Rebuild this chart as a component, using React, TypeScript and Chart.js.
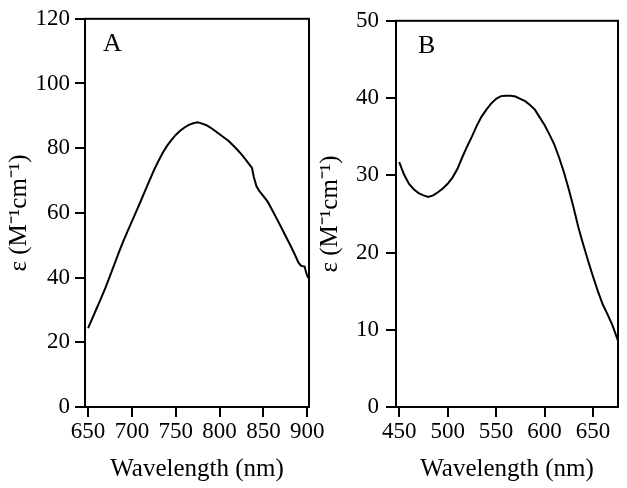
import React, { useEffect, useRef } from "react";
import { Chart, registerables } from "chart.js";

Chart.register(...registerables);

// Panel A data
const wavelengthA = [
  650, 655, 660, 665, 670, 675, 680, 685, 690, 695, 700, 705, 710, 715, 720, 725, 730, 735, 740, 745,
  750, 755, 760, 765, 770, 775, 780, 785, 790, 795, 800, 805, 810, 815, 820, 825, 830, 835, 837, 839,
  842, 845, 850, 855, 860, 865, 870, 875, 880, 885, 890, 893, 897, 899, 901,
];
const epsilonA = [
  24.4, 27.5, 30.6, 33.7, 37.0, 40.5, 44.1, 47.7, 51.1, 54.3, 57.4, 60.5, 63.6, 66.8, 70.0, 73.1, 75.9, 78.5, 80.7, 82.5,
  84.1, 85.4, 86.4, 87.2, 87.7, 88.0, 87.6, 87.1, 86.3, 85.3, 84.3, 83.3, 82.3, 81.0, 79.6, 78.1, 76.4, 74.6, 73.9, 71.2,
  68.3, 66.9, 65.2, 63.4, 60.9, 58.3, 55.7, 53.0, 50.4, 47.6, 44.6, 43.6, 43.4, 41.3, 39.9,
];

// Panel B data
const wavelengthB = [
  450, 455, 460, 465, 470, 475, 480, 485, 490, 495, 500, 505, 510, 515, 520, 525, 530, 535, 540, 545,
  550, 555, 560, 565, 570, 575, 580, 585, 590, 595, 600, 605, 610, 615, 620, 625, 630, 635, 640, 645,
  650, 655, 660, 665, 670, 675.8,
];
const epsilonB = [
  31.7, 30.1, 28.9, 28.2, 27.7, 27.4, 27.2, 27.4, 27.8, 28.3, 28.9, 29.7, 30.8, 32.3, 33.7, 35.0, 36.4, 37.6, 38.5, 39.3,
  39.9, 40.25, 40.3, 40.3, 40.2, 39.9, 39.6, 39.1, 38.5, 37.5, 36.5, 35.3, 34.0, 32.3, 30.4, 28.2, 25.8, 23.2, 21.0, 18.9,
  16.9, 15.0, 13.3, 12.0, 10.6, 8.6,
];

const xTicksA = [650, 700, 750, 800, 850, 900];
const yTicksA = [0, 20, 40, 60, 80, 100, 120];
const xTicksB = [450, 500, 550, 600, 650];
const yTicksB = [0, 10, 20, 30, 40, 50];

const xTitle = "Wavelength (nm)";
const yTitle = "ε (M⁻¹cm⁻¹)";
const panelLetters = ["A", "B"];

const FONT = "'Liberation Serif', 'Times New Roman', serif";

const framePlugin = {
  id: "frame",
  afterDraw(chart: any, _args: any, opts: any) {
    const { ctx, chartArea } = chart;
    const { left, top, right, bottom } = chartArea;
    ctx.save();
    ctx.strokeStyle = "#000";
    ctx.lineWidth = 2;
    ctx.strokeRect(left, top, right - left, bottom - top);
    ctx.fillStyle = "#000";
    ctx.font = `26px ${FONT}`;
    ctx.textBaseline = "alphabetic";
    ctx.textAlign = "left";
    ctx.fillText(opts.letter, left + opts.dx, top + 32);
    ctx.restore();
  },
};

function makeConfig(p: {
  xs: number[];
  ys: number[];
  xTicks: number[];
  yTicks: number[];
  xMin: number;
  xMax: number;
  yMax: number;
  padding: { left: number; right: number; top: number; bottom: number };
  yLabelPad: number;
  letter: string;
  letterDx: number;
}) {
  const gridOpts = {
    display: true,
    drawOnChartArea: false,
    drawTicks: true,
    tickLength: 10,
    color: "#000",
    lineWidth: 2,
  };
  return {
    type: "line" as const,
    data: {
      datasets: [
        {
          data: p.xs.map((x, i) => ({ x, y: p.ys[i] })),
          borderColor: "#000",
          borderWidth: 2,
          pointRadius: 0,
          tension: 0,
          fill: false,
        },
      ],
    },
    plugins: [framePlugin],
    options: {
      animation: false as const,
      responsive: false,
      events: [],
      layout: { padding: p.padding },
      plugins: {
        legend: { display: false },
        tooltip: { enabled: false },
        frame: { letter: p.letter, dx: p.letterDx },
      },
      scales: {
        x: {
          type: "linear" as const,
          min: p.xMin,
          max: p.xMax,
          afterBuildTicks: (scale: any) => {
            scale.ticks = p.xTicks.map((v) => ({ value: v }));
          },
          afterFit: (scale: any) => {
            scale.height = 81;
          },
          border: { display: true, color: "#000", width: 2 },
          grid: gridOpts,
          ticks: {
            color: "#000",
            font: { family: FONT, size: 23 },
            padding: 1,
            maxRotation: 0,
            autoSkip: false,
          },
          title: {
            display: true,
            text: xTitle,
            color: "#000",
            font: { family: FONT, size: 25 },
            padding: { top: 0, bottom: 4 },
          },
        },
        y: {
          type: "linear" as const,
          min: 0,
          max: p.yMax,
          afterBuildTicks: (scale: any) => {
            scale.ticks = p.yTicks.map((v) => ({ value: v }));
          },
          afterFit: (scale: any) => {
            scale.width = 85;
          },
          border: { display: true, color: "#000", width: 2 },
          grid: gridOpts,
          ticks: {
            color: "#000",
            font: { family: FONT, size: 23 },
            padding: p.yLabelPad,
            autoSkip: false,
          },
          title: {
            display: true,
            text: yTitle,
            color: "#000",
            font: { family: FONT, size: 25 },
            padding: { top: 4, bottom: 0 },
          },
        },
      },
    },
  };
}

export default function App() {
  const refA = useRef<HTMLCanvasElement>(null);
  const refB = useRef<HTMLCanvasElement>(null);

  useEffect(() => {
    const chartA = new Chart(
      refA.current as HTMLCanvasElement,
      makeConfig({
        xs: wavelengthA,
        ys: epsilonA,
        xTicks: xTicksA,
        yTicks: yTicksA,
        xMin: 646.5,
        xMax: 902,
        yMax: 120,
        padding: { left: 0, right: 318, top: 15, bottom: 0 },
        yLabelPad: 5,
        letter: panelLetters[0],
        letterDx: 18,
      }) as any
    );
    const chartB = new Chart(
      refB.current as HTMLCanvasElement,
      makeConfig({
        xs: wavelengthB,
        ys: epsilonB,
        xTicks: xTicksB,
        yTicks: yTicksB,
        xMin: 446.7,
        xMax: 675.8,
        yMax: 50,
        padding: { left: 311, right: 9, top: 15, bottom: 0 },
        yLabelPad: 7,
        letter: panelLetters[1],
        letterDx: 22,
      }) as any
    );
    return () => {
      chartA.destroy();
      chartB.destroy();
    };
  }, []);

  const canvasStyle: React.CSSProperties = {
    position: "absolute",
    left: 0,
    top: 0,
    width: 627,
    height: 488,
  };

  return (
    <div
      style={{
        position: "absolute",
        left: 0,
        top: 0,
        width: 627,
        height: 488,
        background: "#fff",
      }}
    >
      <canvas ref={refA} width={627} height={488} style={canvasStyle} />
      <canvas ref={refB} width={627} height={488} style={canvasStyle} />
    </div>
  );
}
